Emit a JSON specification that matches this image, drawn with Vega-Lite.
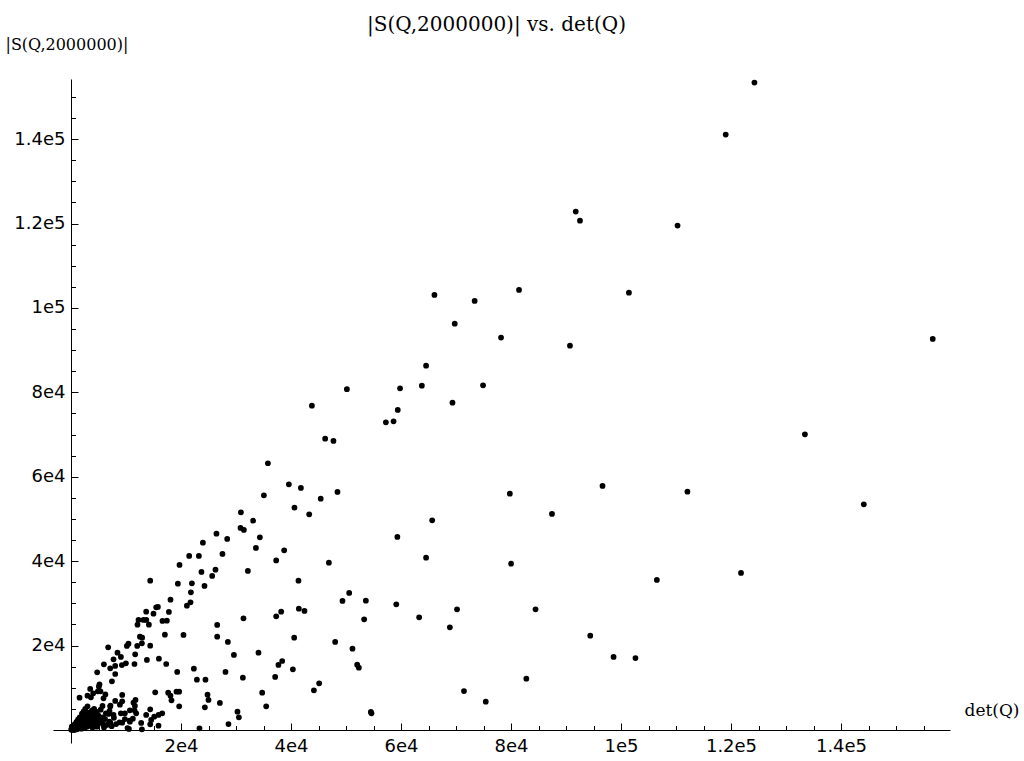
{
  "$schema": "https://vega.github.io/schema/vega-lite/v6.json",
  "autosize": {"type": "none"},
  "padding": {"left": 53, "top": 79, "right": 74, "bottom": 18},
  "width": 897,
  "height": 664,
  "background": "white",
  "title": {"text": "|S(Q,2000000)| vs. det(Q)", "font": "DejaVu Serif", "fontSize": 20, "fontWeight": "normal", "color": "black", "anchor": "middle", "frame": "group", "baseline": "bottom", "offset": 6, "dy": 25, "dx": -5},
  "config": {"view": {"stroke": null}},
  "data": {"values": [
    {"d":124260,"s":153410},{"d":119040,"s":141090},{"d":91770,"s":122840},{"d":92540,"s":120700},{"d":110280,"s":119520},{"d":66080,"s":103100},{"d":73390,"s":101670},{"d":81460,"s":104280},{"d":101440,"s":103640},{"d":69770,"s":96290},{"d":78190,"s":92980},{"d":90720,"s":91080},{"d":156680,"s":92670},{"d":64560,"s":86340},{"d":59830,"s":80980},{"d":63790,"s":81600},{"d":74920,"s":81690},
    {"d":69360,"s":77570},{"d":59410,"s":75840},{"d":57250,"s":72920},{"d":58650,"s":73160},{"d":133440,"s":70080},{"d":79790,"s":56000},{"d":96640,"s":57830},{"d":112080,"s":56480},{"d":144150,"s":53490},{"d":87450,"s":51190},{"d":65670,"s":49700},{"d":59340,"s":45740},{"d":64560,"s":40830},{"d":80010,"s":39410},{"d":121820,"s":37210},{"d":106520,"s":35550},{"d":59140,"s":29790},{"d":70190,"s":28610},{"d":84460,"s":28610},{"d":63300,"s":26710},{"d":68880,"s":24340},{"d":94410,"s":22350},{"d":98650,"s":17300},{"d":102630,"s":17060},{"d":82790,"s":12160},{"d":71450,"s":9240},{"d":75410,"s":6710},
    {"d":50160,"s":80750},{"d":43800,"s":76860},{"d":46210,"s":69040},{"d":47720,"s":68490},{"d":35800,"s":63210},{"d":39610,"s":58230},{"d":41800,"s":57350},{"d":48450,"s":56410},{"d":35070,"s":55620},{"d":45400,"s":54820},{"d":40630,"s":52690},{"d":43310,"s":51120},{"d":30890,"s":51590},{"d":33120,"s":49600},{"d":30820,"s":47870},{"d":31430,"s":47400},{"d":26450,"s":46520},{"d":28400,"s":45270},{"d":23980,"s":44390},{"d":34340,"s":45670},{"d":33620,"s":43130},{"d":38760,"s":42590},{"d":21490,"s":41240},{"d":23250,"s":41240},{"d":27540,"s":41710},{"d":37310,"s":40170},
    {"d":19730,"s":39110},{"d":46890,"s":39650},{"d":23720,"s":37450},{"d":26270,"s":37990},{"d":25670,"s":36500},{"d":32160,"s":37680},{"d":14400,"s":35380},{"d":19430,"s":34670},{"d":21980,"s":34770},{"d":24270,"s":34130},{"d":21800,"s":32630},{"d":41360,"s":35380},{"d":18090,"s":30880},{"d":21730,"s":30260},{"d":21070,"s":29460},{"d":49360,"s":30570},{"d":50580,"s":32470},{"d":53610,"s":30640},{"d":15800,"s":29150},{"d":15490,"s":29080},{"d":15000,"s":27560},{"d":17800,"s":27970},{"d":31360,"s":26470},{"d":37310,"s":26950},{"d":38210,"s":28040},{"d":41430,"s":28750},{"d":42450,"s":28200},{"d":53300,"s":26240},{"d":16630,"s":25830},{"d":17430,"s":25900},{"d":26580,"s":24890},{"d":17070,"s":22590},{"d":20450,"s":22520},{"d":26580,"s":22110},{"d":28520,"s":20860},{"d":14400,"s":19980},{"d":40580,"s":21880},{"d":48030,"s":20860},{"d":51180,"s":19270},{"d":29620,"s":17780},{"d":34090,"s":18320},{"d":15980,"s":16900},{"d":17310,"s":15640},{"d":22340,"s":14530},{"d":37720,"s":15410},{"d":38400,"s":16350},{"d":52030,"s":15480},{"d":52340,"s":14770},{"d":19310,"s":13750},{"d":28090,"s":13750},{"d":31250,"s":12400},{"d":37120,"s":12560},{"d":40340,"s":14390},{"d":22890,"s":11920},{"d":24450,"s":11920},{"d":44160,"s":9410},{"d":45120,"s":11070},{"d":15310,"s":8930},{"d":17670,"s":8840},{"d":18090,"s":8130},{"d":18270,"s":7040},{"d":19180,"s":9080},{"d":19670,"s":9080},{"d":24820,"s":8370},{"d":25000,"s":7110},{"d":34760,"s":8840},{"d":19670,"s":5620},{"d":27070,"s":6400},{"d":24340,"s":5380},{"d":35490,"s":5620},{"d":14400,"s":4910},{"d":16580,"s":3960},{"d":15910,"s":3560},{"d":15130,"s":3150},{"d":30270,"s":4340},{"d":30520,"s":3010},{"d":54520,"s":4270},{"d":54630,"s":3960},{"d":14400,"s":1350},{"d":15910,"s":1020},{"d":28630,"s":1420},{"d":23360,"s":400},
    {"d":13670,"s":28040},{"d":13690,"s":26070},{"d":12270,"s":26070},{"d":13180,"s":26070},{"d":14160,"s":24960},{"d":12090,"s":24960},{"d":6760,"s":19600},{"d":12530,"s":22110},{"d":12940,"s":21880},{"d":8450,"s":18320},{"d":7730,"s":16760},{"d":9070,"s":17300},{"d":5980,"s":15570},{"d":12040,"s":19910},{"d":10160,"s":19910},{"d":10450,"s":20450},{"d":11670,"s":17940},{"d":7130,"s":14620},{"d":8040,"s":15170},{"d":13800,"s":16590},{"d":9980,"s":15810},{"d":11540,"s":15640},{"d":4760,"s":13670},{"d":8040,"s":13270},{"d":7440,"s":11540},{"d":5180,"s":10830},{"d":4040,"s":8700},{"d":3490,"s":9720},{"d":3620,"s":7750},{"d":1550,"s":7660},{"d":5360,"s":9170},{"d":5730,"s":5690},{"d":5910,"s":7510},{"d":7180,"s":5760},{"d":6340,"s":3960},{"d":8890,"s":6000},{"d":9310,"s":8300},{"d":11360,"s":6470},{"d":11620,"s":5690},{"d":11540,"s":4670},{"d":13670,"s":3560},{"d":14580,"s":2370},{"d":12760,"s":1660},{"d":9310,"s":1730},{"d":10530,"s":240},{"d":5910,"s":1190},{"d":4710,"s":780},{"d":7130,"s":1730},{"d":11250,"s":2680},{"d":10640,"s":2200},{"d":11850,"s":3960},{"d":10270,"s":470},{"d":8820,"s":1820},{"d":9070,"s":3960},{"d":7730,"s":3560},{"d":7000,"s":4500},{"d":11730,"s":7110},{"d":9310,"s":6800},{"d":4820,"s":1190},{"d":12890,"s":20550},{"d":9250,"s":15400},{"d":5070,"s":10300},{"d":2990,"s":8130},{"d":4890,"s":9170},{"d":6250,"s":8420},{"d":8040,"s":6880},{"d":7130,"s":5570},{"d":9800,"s":3960},{"d":10710,"s":4670},{"d":9800,"s":2600},{"d":10710,"s":1970},{"d":12890,"s":160},
    {"d":200,"s":150},{"d":350,"s":400},{"d":500,"s":200},{"d":600,"s":700},{"d":800,"s":350},{"d":900,"s":1100},{"d":1000,"s":600},{"d":1100,"s":150},{"d":1200,"s":1500},{"d":1300,"s":900},{"d":1400,"s":400},{"d":1500,"s":2000},{"d":1600,"s":1200},{"d":1700,"s":700},{"d":1800,"s":2400},{"d":1900,"s":300},{"d":2000,"s":1600},{"d":2100,"s":2800},{"d":2200,"s":900},{"d":2300,"s":1900},{"d":2400,"s":3200},{"d":2500,"s":500},{"d":2600,"s":2300},{"d":2700,"s":1300},{"d":2800,"s":3600},{"d":2900,"s":2700},{"d":3000,"s":800},{"d":3100,"s":1700},{"d":3200,"s":3000},{"d":3300,"s":4100},{"d":3400,"s":2100},{"d":3500,"s":1100},{"d":3600,"s":3500},{"d":3700,"s":2500},{"d":3800,"s":4600},{"d":3900,"s":600},{"d":4000,"s":1500},{"d":4100,"s":3100},{"d":4200,"s":5000},{"d":4300,"s":2000},{"d":4400,"s":3900},{"d":4500,"s":900},{"d":4600,"s":2800},{"d":4700,"s":4300},{"d":4800,"s":1300},{"d":5000,"s":3400},{"d":5200,"s":2200},{"d":5400,"s":4800},{"d":5600,"s":1700},{"d":5800,"s":3000},{"d":6000,"s":600},{"d":6200,"s":2600},{"d":6500,"s":1200},{"d":6800,"s":3800},{"d":7000,"s":2000},{"d":7400,"s":900},{"d":7800,"s":2900},{"d":8200,"s":1400},{"d":500,"s":1000},{"d":700,"s":1400},{"d":1000,"s":1900},{"d":1300,"s":2500},{"d":1600,"s":3000},{"d":2000,"s":3900},{"d":2300,"s":4400},{"d":2600,"s":5000},{"d":3000,"s":5600},{"d":200,"s":500},{"d":100,"s":300},{"d":150,"s":800},{"d":400,"s":50},{"d":50,"s":50},{"d":300,"s":100},{"d":600,"s":100},{"d":700,"s":50}
  ]},
  "resolve": {"axis": {"x": "independent", "y": "independent"}},
  "layer": [
    {
      "mark": {"type": "circle", "size": 33, "color": "black", "opacity": 1},
      "encoding": {
        "x": {"field": "d", "type": "quantitative",
          "scale": {"domain": [-3273, 159818], "nice": false, "zero": false},
          "axis": {"orient": "bottom", "offset": -13, "values": [20000, 40000, 60000, 80000, 100000, 120000, 140000],
            "labelExpr": "datum.value >= 100000 ? (datum.value/100000) + 'e5' : (datum.value/10000) + 'e4'",
            "tickSize": -7, "tickColor": "black", "tickWidth": 1, "domainColor": "black", "domainWidth": 1,
            "labelFont": "DejaVu Sans", "labelFontSize": 18, "labelColor": "black", "labelPadding": 14, "grid": false,
            "title": "det(Q)", "titleFont": "DejaVu Serif", "titleFontSize": 17, "titleFontWeight": "normal", "titleColor": "black",
            "titleAlign": "left", "titleBaseline": "middle", "titleX": 911, "titleY": -20, "titleAngle": 0}},
        "y": {"field": "s", "type": "quantitative",
          "scale": {"domain": [-3081, 154265], "nice": false, "zero": false},
          "axis": {"orient": "left", "offset": -18, "values": [20000, 40000, 60000, 80000, 100000, 120000, 140000],
            "labelExpr": "datum.value >= 100000 ? (datum.value/100000) + 'e5' : (datum.value/10000) + 'e4'",
            "tickSize": -7, "tickColor": "black", "tickWidth": 1, "domainColor": "black", "domainWidth": 1,
            "labelFont": "DejaVu Sans", "labelFontSize": 18, "labelColor": "black", "labelPadding": 13, "grid": false,
            "title": "|S(Q,2000000)|", "titleFont": "DejaVu Serif", "titleFontSize": 16, "titleFontWeight": "normal", "titleColor": "black",
            "titleAlign": "left", "titleBaseline": "middle", "titleAngle": 0, "titleX": -66, "titleY": -35}}
      }
    },
    {
      "mark": {"type": "circle", "size": 33, "opacity": 0},
      "encoding": {
        "x": {"field": "d", "type": "quantitative",
          "axis": {"orient": "bottom", "offset": -13, "values": [5000,10000,15000,25000,30000,35000,45000,50000,55000,65000,70000,75000,85000,90000,95000,105000,110000,115000,125000,130000,135000,145000,150000,155000],
            "tickSize": -4.5, "tickColor": "black", "tickWidth": 1, "labels": false, "domain": false, "grid": false, "title": null}},
        "y": {"field": "s", "type": "quantitative",
          "axis": {"orient": "left", "offset": -18, "values": [5000,10000,15000,25000,30000,35000,45000,50000,55000,65000,70000,75000,85000,90000,95000,105000,110000,115000,125000,130000,135000,145000,150000],
            "tickSize": -4.5, "tickColor": "black", "tickWidth": 1, "labels": false, "domain": false, "grid": false, "title": null}}
      }
    }
  ]
}
